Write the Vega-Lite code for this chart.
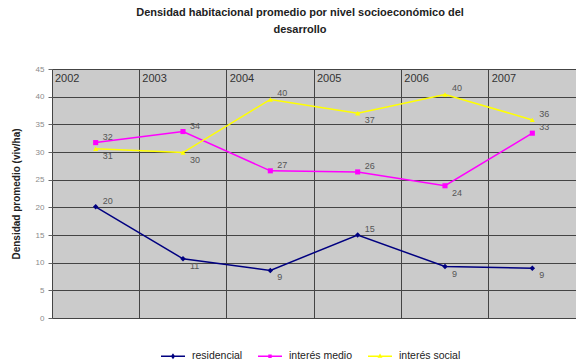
{
  "$schema": "https://vega.github.io/schema/vega-lite/v6.json",
  "width": 524,
  "height": 249,
  "autosize": {"type": "none"},
  "padding": {"left": 52, "top": 69, "right": 0, "bottom": 42},
  "background": "white",
  "title": {
    "text": ["Densidad habitacional promedio por nivel socioeconómico del", "desarrollo"],
    "font": "Liberation Sans",
    "fontSize": 11,
    "fontWeight": "bold",
    "color": "#222222",
    "lineHeight": 17,
    "offset": 30,
    "dx": -14
  },
  "config": {
    "view": {"fill": "#cbcbcb", "stroke": "#666666"},
    "font": "Liberation Sans"
  },
  "datasets": {
    "series": [
      {"year": "2002", "serie": "residencial", "value": 20.1},
      {"year": "2003", "serie": "residencial", "value": 10.7},
      {"year": "2004", "serie": "residencial", "value": 8.6},
      {"year": "2005", "serie": "residencial", "value": 15.0},
      {"year": "2006", "serie": "residencial", "value": 9.3},
      {"year": "2007", "serie": "residencial", "value": 9.0},
      {"year": "2002", "serie": "interés medio", "value": 31.7},
      {"year": "2003", "serie": "interés medio", "value": 33.7},
      {"year": "2004", "serie": "interés medio", "value": 26.6},
      {"year": "2005", "serie": "interés medio", "value": 26.4},
      {"year": "2006", "serie": "interés medio", "value": 23.9},
      {"year": "2007", "serie": "interés medio", "value": 33.4},
      {"year": "2002", "serie": "interés social", "value": 30.6},
      {"year": "2003", "serie": "interés social", "value": 29.9},
      {"year": "2004", "serie": "interés social", "value": 39.5},
      {"year": "2005", "serie": "interés social", "value": 37.0},
      {"year": "2006", "serie": "interés social", "value": 40.4},
      {"year": "2007", "serie": "interés social", "value": 35.8}
    ],
    "years": [
      {"year": "2002"}, {"year": "2003"}, {"year": "2004"},
      {"year": "2005"}, {"year": "2006"}, {"year": "2007"}
    ]
  },
  "encoding": {
    "y": {
      "type": "quantitative",
      "scale": {"domain": [0, 45], "nice": false},
      "axis": {
        "values": [0, 5, 10, 15, 20, 25, 30, 35, 40, 45],
        "labelOverlap": false,
        "title": "Densidad promedio (viv/ha)",
        "titleFont": "Liberation Sans", "titleFontSize": 10, "titleFontWeight": "bold", "titleColor": "#222222",
        "titlePadding": 14,
        "labelColor": "#8a8a8a", "labelFontSize": 8, "labelPadding": 4,
        "tickColor": "#666666", "tickSize": 4,
        "domain": false,
        "grid": true, "gridColor": "#444444", "gridWidth": 1
      }
    }
  },
  "layer": [
    {
      "data": {"name": "years"},
      "mark": {"type": "text", "align": "left", "baseline": "top", "dx": 3, "dy": 4, "fontSize": 11, "color": "#333333"},
      "encoding": {
        "x": {
          "field": "year", "type": "ordinal", "bandPosition": 0,
          "scale": {"type": "band", "paddingInner": 0, "paddingOuter": 0},
          "axis": {"labels": false, "ticks": false, "domain": false, "grid": true, "gridColor": "#444444", "gridWidth": 1, "bandPosition": 0, "title": null}
        },
        "y": {"datum": 45, "type": "quantitative"},
        "text": {"field": "year"}
      }
    },
    {
      "data": {"name": "series"},
      "mark": {"type": "line", "strokeWidth": 1.5},
      "encoding": {
        "x": {"field": "year", "type": "ordinal", "bandPosition": 0.5},
        "y": {"field": "value", "type": "quantitative"},
        "color": {
          "field": "serie", "type": "nominal",
          "scale": {"domain": ["residencial", "interés medio", "interés social"], "range": ["#000080", "#ff00ff", "#ffff00"]},
          "legend": {
            "orient": "none", "legendX": 108, "legendY": 274,
            "direction": "horizontal", "title": null,
            "labelFontSize": 10.5, "labelColor": "#222222", "symbolSize": 576, "columnPadding": 12, "symbolStrokeWidth": 1.5, "labelOffset": 6,
            "encode": {
              "symbols": {
                "update": {
                  "shape": {"signal": "datum.value == 'residencial' ? 'M-1,0H1M0,-0.14L0.1,0L0,0.14L-0.1,0Z' : datum.value == 'interés medio' ? 'M-1,0H1M-0.08,-0.08H0.08V0.08H-0.08Z' : 'M-1,0H1M0,-0.11L0.1,0.07L-0.1,0.07Z'"},
                  "stroke": {"signal": "scale('color', datum.value)"},
                  "fill": {"signal": "scale('color', datum.value)"}
                }
              }
            }
          }
        }
      }
    },
    {
      "data": {"name": "series"},
      "transform": [{"filter": "datum.serie == 'residencial'"}],
      "mark": {"type": "point", "shape": "diamond", "size": 30, "filled": true, "opacity": 1, "color": "#000080"},
      "encoding": {
        "x": {"field": "year", "type": "ordinal", "bandPosition": 0.5},
        "y": {"field": "value", "type": "quantitative"}
      }
    },
    {
      "data": {"name": "series"},
      "transform": [{"filter": "datum.serie == 'interés medio'"}],
      "mark": {"type": "point", "shape": "square", "size": 26, "filled": true, "opacity": 1, "color": "#ff00ff"},
      "encoding": {
        "x": {"field": "year", "type": "ordinal", "bandPosition": 0.5},
        "y": {"field": "value", "type": "quantitative"}
      }
    },
    {
      "data": {"name": "series"},
      "transform": [{"filter": "datum.serie == 'interés social'"}],
      "mark": {"type": "point", "shape": "triangle-up", "size": 26, "filled": true, "opacity": 1, "color": "#ffff00"},
      "encoding": {
        "x": {"field": "year", "type": "ordinal", "bandPosition": 0.5},
        "y": {"field": "value", "type": "quantitative"}
      }
    },
    {
      "data": {"name": "series"},
      "transform": [{"filter": "(datum.serie == 'interés medio' && datum.year != '2006') || (datum.serie == 'residencial' && (datum.year == '2002' || datum.year == '2005')) || (datum.serie == 'interés social' && (datum.year == '2004' || datum.year == '2006' || datum.year == '2007'))"}],
      "mark": {"type": "text", "align": "left", "dx": 7, "dy": -6, "fontSize": 9, "color": "#555555"},
      "encoding": {
        "x": {"field": "year", "type": "ordinal"},
        "y": {"field": "value", "type": "quantitative"},
        "text": {"field": "value", "type": "quantitative", "format": ".0f"}
      }
    },
    {
      "data": {"name": "series"},
      "transform": [{"filter": "(datum.serie == 'interés medio' && datum.year == '2006') || (datum.serie == 'residencial' && datum.year != '2002' && datum.year != '2005') || (datum.serie == 'interés social' && datum.year != '2004' && datum.year != '2006' && datum.year != '2007')"}],
      "mark": {"type": "text", "align": "left", "dx": 7, "dy": 7, "fontSize": 9, "color": "#555555"},
      "encoding": {
        "x": {"field": "year", "type": "ordinal"},
        "y": {"field": "value", "type": "quantitative"},
        "text": {"field": "value", "type": "quantitative", "format": ".0f"}
      }
    }
  ]
}
